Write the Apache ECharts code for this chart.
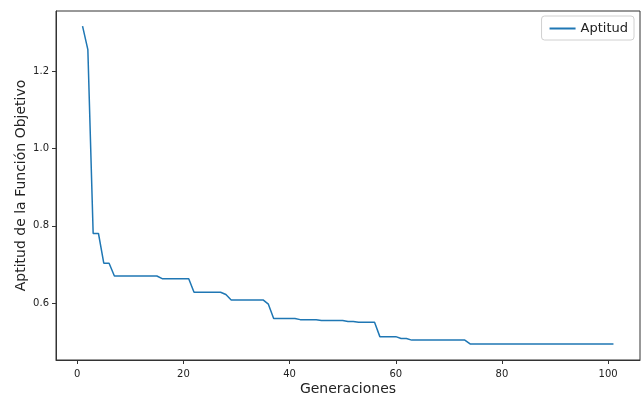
<!DOCTYPE html>
<html>
<head>
<meta charset="utf-8">
<script src="https://cdn.jsdelivr.net/npm/echarts@6/dist/echarts.min.js"></script>
<style>
  html, body { margin: 0; padding: 0; background: #fff; }
  #chart { width: 641px; height: 396px; }
</style>
</head>
<body>
<div id="chart"></div>
<script>
// generaciones (eje x)
const generaciones = [
  1, 2, 3, 4, 5, 6, 7, 8, 9, 10, 11, 12, 13, 14, 15, 16, 17, 18, 19, 20,
  21, 22, 23, 24, 25, 26, 27, 28, 29, 30, 31, 32, 33, 34, 35, 36, 37, 38, 39, 40,
  41, 42, 43, 44, 45, 46, 47, 48, 49, 50, 51, 52, 53, 54, 55, 56, 57, 58, 59, 60,
  61, 62, 63, 64, 65, 66, 67, 68, 69, 70, 71, 72, 73, 74, 75, 76, 77, 78, 79, 80,
  81, 82, 83, 84, 85, 86, 87, 88, 89, 90, 91, 92, 93, 94, 95, 96, 97, 98, 99, 100, 101
]
// aptitud por generación
const aptitud = [
  1.317, 1.256, 0.780, 0.780, 0.703, 0.703, 0.670, 0.670, 0.670, 0.670,
  0.670, 0.670, 0.670, 0.670, 0.670, 0.663, 0.663, 0.663, 0.663, 0.663,
  0.663, 0.628, 0.628, 0.628, 0.628, 0.628, 0.628, 0.622, 0.608, 0.608,
  0.608, 0.608, 0.608, 0.608, 0.608, 0.597, 0.560, 0.560, 0.560, 0.560,
  0.560, 0.557, 0.557, 0.557, 0.557, 0.555, 0.555, 0.555, 0.555, 0.555,
  0.552, 0.552, 0.550, 0.550, 0.550, 0.550, 0.513, 0.513, 0.513, 0.513,
  0.508, 0.508, 0.504, 0.504, 0.504, 0.504, 0.504, 0.504, 0.504, 0.504,
  0.504, 0.504, 0.504, 0.494, 0.494, 0.494, 0.494, 0.494, 0.494, 0.494,
  0.494, 0.494, 0.494, 0.494, 0.494, 0.494, 0.494, 0.494, 0.494, 0.494,
  0.494, 0.494, 0.494, 0.494, 0.494, 0.494, 0.494, 0.494, 0.494, 0.494, 0.494
]
// marcas de los ejes
const xTicks = [0, 20, 40, 60, 80, 100]
const yTicks = [0.6, 0.8, 1.0, 1.2]

const chart = echarts.init(document.getElementById('chart'), null, { renderer: 'canvas' })
const fuente = 'DejaVu Sans'

const options = {
  animation: false,
  backgroundColor: '#fff',
  textStyle: { fontFamily: fuente },
  grid: {
    left: 56, right: 1, top: 11, bottom: 36,
    outerBoundsMode: 'none',
    containLabel: false,
    show: true, borderColor: '#333', borderWidth: 1
  },
  legend: {
    right: 7, top: 16,
    data: ['Aptitud'],
    icon: 'rect',
    itemWidth: 26, itemHeight: 2,
    itemGap: 8,
    padding: [6, 6, 5, 8],
    borderColor: '#d0d0d0', borderWidth: 1, borderRadius: 3,
    backgroundColor: '#fff',
    textStyle: { fontFamily: fuente, fontSize: 13, color: '#222' }
  },
  xAxis: {
    type: 'value',
    min: -4, max: 106,
    name: 'Generaciones',
    nameLocation: 'middle',
    nameGap: 22,
    nameMoveOverlap: false,
    nameTextStyle: { fontFamily: fuente, fontSize: 14, color: '#222' },
    splitLine: { show: false },
    axisLine: { show: true, onZero: false, lineStyle: { color: '#333' } },
    axisTick: { show: true, inside: false, length: 4, customValues: xTicks, lineStyle: { color: '#333' } },
    axisLabel: { customValues: xTicks, margin: 9, fontSize: 10, color: '#222', fontFamily: fuente }
  },
  yAxis: {
    type: 'value',
    min: 0.4525, max: 1.356,
    name: 'Aptitud de la Función Objetivo',
    nameLocation: 'middle',
    nameGap: 28,
    nameMoveOverlap: false,
    nameTextStyle: { fontFamily: fuente, fontSize: 14, color: '#222' },
    splitLine: { show: false },
    axisLine: { show: true, onZero: false, lineStyle: { color: '#333' } },
    axisTick: { show: true, inside: false, length: 4, customValues: yTicks, lineStyle: { color: '#333' } },
    axisLabel: {
      customValues: yTicks, margin: 7, fontSize: 10, color: '#222', fontFamily: fuente,
      formatter: v => v.toFixed(1)
    }
  },
  series: [
    {
      name: 'Aptitud',
      type: 'line',
      data: generaciones.map((g, i) => [g, aptitud[i]]),
      showSymbol: false,
      symbol: 'none',
      lineStyle: { color: '#1f77b4', width: 1.5 },
      itemStyle: { color: '#1f77b4' }
    }
  ]
}

chart.setOption(options)
</script>
</body>
</html>
